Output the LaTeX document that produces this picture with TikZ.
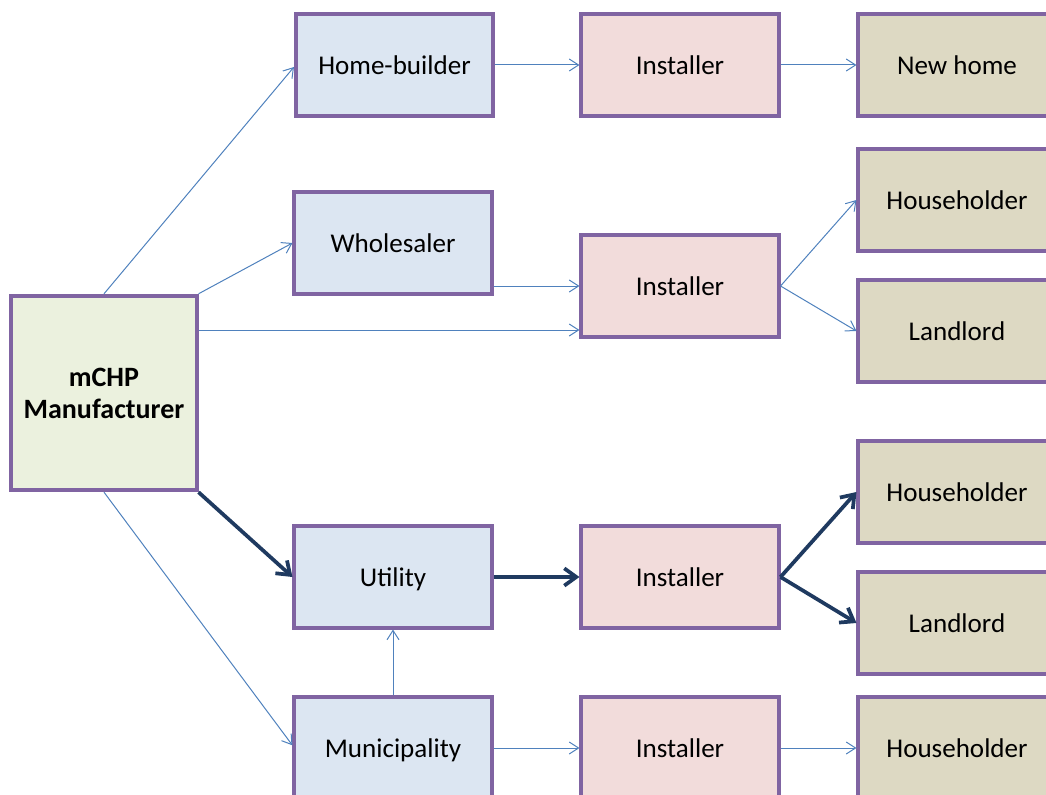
\documentclass[tikz,border=0pt]{standalone}
\usepackage{fontspec}
\setmainfont{Carlito}
\usetikzlibrary{arrows.meta}
\definecolor{bordc}{HTML}{8064A2}
\definecolor{bluef}{HTML}{DCE6F2}
\definecolor{pinkf}{HTML}{F2DCDB}
\definecolor{tanf}{HTML}{DDD9C3}
\definecolor{greenf}{HTML}{EBF1DE}
\definecolor{thinc}{HTML}{4F81BD}
\definecolor{thickc}{HTML}{1F3A60}
\tikzset{
  box/.style={draw=bordc, line width=2.8pt, rectangle, inner sep=0pt,
    minimum width=148pt, minimum height=76pt, text depth=0pt,
    font=\fontsize{20.3}{25}\selectfont, align=center},
  bluebox/.style={box, fill=bluef},
  pinkbox/.style={box, fill=pinkf},
  tanbox/.style={box, fill=tanf},
  thinarrow/.style={draw=thinc, line width=0.75pt, -{Straight Barb[length=7pt,width=9pt]}},
  thickarrow/.style={draw=thickc, line width=2.8pt, -{Straight Barb[length=9pt,width=13pt]}}
}
\begin{document}
\begin{tikzpicture}[x=0.75pt,y=-0.75pt]
\useasboundingbox (0,0) rectangle (1046,795);
\begin{scope}
\clip (0,0) rectangle (1046,795);
\node[box, fill=greenf, minimum width=139pt, minimum height=146pt, font=\fontsize{21}{24}\selectfont\bfseries] (mfr) at (104,393) {mCHP\\Manufacturer};
\node[bluebox] (hb) at (394.5,65) {Home-builder};
\node[pinkbox] (i1) at (680,65) {Installer};
\node[tanbox] (nh) at (957,65) {New home};
\node[bluebox] (ws) at (393,243) {Wholesaler};
\node[pinkbox] (i2) at (680,286) {Installer};
\node[tanbox] (hh1) at (957,200) {Householder};
\node[tanbox] (ll1) at (957,331) {Landlord};
\node[bluebox] (ut) at (393,577) {Utility};
\node[pinkbox] (i3) at (680,577) {Installer};
\node[tanbox] (hh2) at (957,492) {Householder};
\node[tanbox] (ll2) at (957,623) {Landlord};
\node[bluebox] (mu) at (393,748) {Municipality};
\node[pinkbox] (i4) at (680,748) {Installer};
\node[tanbox] (hh3) at (957,748) {Householder};
\end{scope}
\coordinate (m1) at ([yshift=47.25pt]mfr.east);
\draw[thinarrow] (mfr.north) -- ([yshift=-1.5pt]hb.west);
\draw[thinarrow] (mfr.north east) -- (ws.west);
\draw[thinarrow] (m1) -- (m1 -| i2.west);
\draw[thinarrow] (i2.west -| ws.east) -- (i2.west);
\draw[thinarrow] (hb.east) -- (i1.west);
\draw[thinarrow] (i1.east) -- (nh.west);
\draw[thinarrow] (i2.east) -- (hh1.west);
\draw[thinarrow] (i2.east) -- (ll1.west);
\draw[thickarrow] (mfr.south east) -- (ut.west);
\draw[thickarrow] (ut.east) -- (i3.west);
\draw[thickarrow] (i3.east) -- (hh2.west);
\draw[thickarrow] (i3.east) -- (ll2.west);
\draw[thinarrow] (mfr.south) -- ([yshift=2pt]mu.west);
\draw[thinarrow] (mu.north) -- (ut.south);
\draw[thinarrow] (mu.east) -- (i4.west);
\draw[thinarrow] (i4.east) -- (hh3.west);
\end{tikzpicture}
\end{document}
